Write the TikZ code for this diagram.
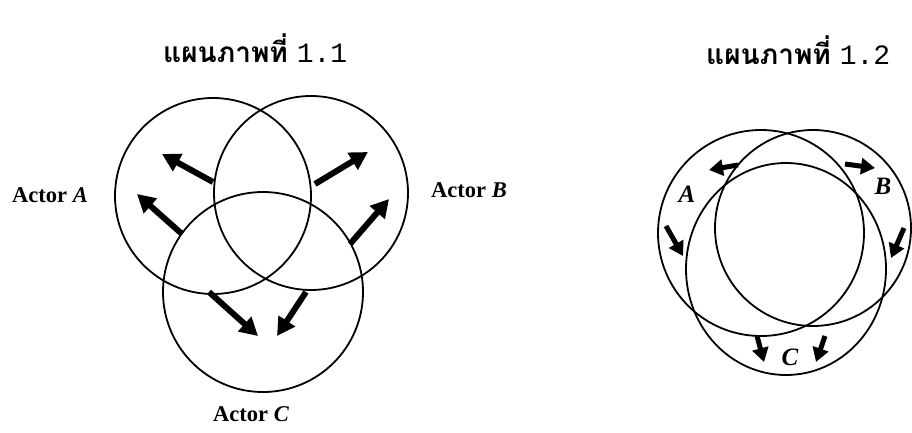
\documentclass[tikz,border=0pt]{standalone}
\usepackage{fontspec}
\setmainfont{Liberation Serif}
\newfontfamily\thaifont[Script=Thai]{Loma}
\newfontfamily\monofont{Liberation Mono}
\usetikzlibrary{arrows.meta}
\begin{document}
\begin{tikzpicture}[x=1pt,y=-1pt,
  ring/.style={draw, line width=1.8pt},
  bigarrow/.style={line width=6pt, -{Triangle[length=18pt,width=19pt]}},
  smallarrow/.style={line width=5pt, -{Triangle[length=14pt,width=16pt]}},
  titletext/.style={anchor=base west, inner sep=0pt},
  actor/.style={anchor=base west, inner sep=0pt, font=\bfseries\fontsize{22.5}{24}\selectfont},
  letter/.style={inner sep=0pt, font=\bfseries\itshape\fontsize{25}{27}\selectfont}]
\useasboundingbox[fill=white] (0,0) rectangle (912,433);

% titles
\node[titletext] (t1) at (163,63) {\fontsize{28}{30}\selectfont{\bfseries\thaifont แผนภาพที่}\hspace{9pt}{\monofont 1.1}};
\node[titletext] (t2) at (706,65) {\fontsize{28}{30}\selectfont{\bfseries\thaifont แผนภาพที่}\hspace{9pt}{\monofont 1.2}};

% ---- diagram 1.1 ----
\draw[ring] (213,196) circle[radius=98pt];
\draw[ring] (311,193) circle[radius=97pt];
\draw[ring] (263,292) circle[radius=100pt];

\draw[bigarrow] (213,182) -- (162,154);
\draw[bigarrow] (182,234) -- (137,194);
\draw[bigarrow] (315,184) -- (368,152);
\draw[bigarrow] (350,244) -- (389,199);
\draw[bigarrow] (209,292) -- (258,336);
\draw[bigarrow] (306,292) -- (277,336);

\node[actor] (la) at (12,202) {Actor \textit{A}};
\node[actor] (lb) at (431,197) {Actor \textit{B}};
\node[actor] (lc) at (213,421) {Actor \textit{C}};

% ---- diagram 1.2 ----
\draw[ring] (761,233) circle[radius=103pt];
\draw[ring] (813,228) circle[radius=98pt];
\draw[ring] (786,269) ellipse[x radius=100pt, y radius=106pt];

\draw[smallarrow] (738,165) -- (709,170);
\draw[smallarrow] (845,164) -- (875,168);
\draw[smallarrow] (666,226) -- (683,256);
\draw[smallarrow] (904,228) -- (891,258);
\draw[smallarrow] (757,336) -- (764,362);
\draw[smallarrow] (825,336) -- (816,362);

\node[letter] (na) at (687,194) {A};
\node[letter] (nb) at (883,186) {B};
\node[letter] (nc) at (790,357) {C};
\end{tikzpicture}
\end{document}
